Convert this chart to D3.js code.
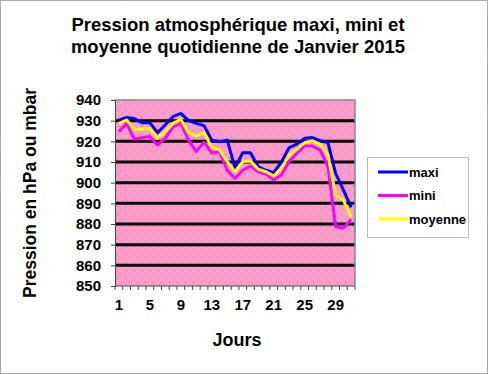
<!DOCTYPE html>
<html>
<head>
<meta charset="utf-8">
<script src="https://cdn.jsdelivr.net/npm/d3@7"></script>
<style>
body { margin: 0; background: #fff; }
svg { display: block; font-family: "Liberation Sans", Arial, sans-serif; }
</style>
</head>
<body>
<svg width="488" height="374"></svg>
<script>
var days = d3.range(1, 32);
var maxi = [930.3, 931.6, 931, 929, 929, 924.2, 928, 932, 933.5, 930, 928.7, 927.6, 920.6, 919.8, 920.6,
            907, 914.5, 914.5, 907.7, 906, 904.8, 910, 917, 918.7, 921.5, 921.8, 920.3, 919.4, 904.5, 896.5, 888];
var mini = [924.7, 928.7, 921, 921.8, 922.3, 918.2, 921.5, 927, 928.7, 920.6, 915, 919.6, 914.4, 915, 906,
            902, 906, 908, 905.3, 904.2, 901.3, 903.7, 910.2, 914.2, 917.7, 917.7, 915.8, 908, 878.7, 878, 882.3];
var moyenne = [928.7, 930.3, 925.8, 925.8, 926.3, 921.5, 924.7, 928.7, 930.6, 924.2, 922.6, 924.2, 917, 915.8, 910.2,
               905.3, 910.2, 910.5, 906.5, 905.3, 903.2, 907, 913.4, 916.1, 919.4, 920.2, 918.6, 913.4, 894, 891.6, 883.5];
var yTicks = d3.range(850, 941, 10);
var xLabels = [1, 5, 9, 13, 17, 21, 25, 29];

var series = [
    {name: "maxi", values: maxi, color: "#0000ff"},
    {name: "mini", values: mini, color: "#ff00ff"},
    {name: "moyenne", values: moyenne, color: "#ffff00"}
];

var svg = d3.select("svg");
var pLeft = 115, pRight = 355, pTop = 100, pBottom = 286;

// pink dotted background
var defs = svg.append("defs");
var pat = defs.append("pattern")
    .attr("id", "dots")
    .attr("width", 8).attr("height", 8)
    .attr("patternUnits", "userSpaceOnUse");
pat.append("rect").attr("width", 8).attr("height", 8).attr("fill", "#fb9ccb");
pat.append("rect").attr("x", 1).attr("y", 2).attr("width", 1).attr("height", 1).attr("fill", "#d86a9e");
pat.append("rect").attr("x", 5).attr("y", 6).attr("width", 1).attr("height", 1).attr("fill", "#d86a9e");

// outer dotted frame
svg.append("rect")
    .attr("x", 0.5).attr("y", 0.5).attr("width", 487).attr("height", 373)
    .attr("fill", "#fff").attr("stroke", "#555").attr("stroke-dasharray", "1,1");

var x = d3.scaleBand().domain(days).range([pLeft, pRight]);
var y = d3.scaleLinear().domain([850, 940]).range([pBottom, pTop]);

svg.append("rect")
    .attr("x", pLeft).attr("y", pTop)
    .attr("width", pRight - pLeft).attr("height", pBottom - pTop)
    .attr("fill", "url(#dots)");

// gridlines
svg.append("g")
    .selectAll("line")
    .data(yTicks.filter(function(d) { return d > 850 && d < 940; }))
    .enter().append("line")
    .attr("x1", pLeft).attr("x2", pRight)
    .attr("y1", function(d) { return y(d); })
    .attr("y2", function(d) { return y(d); })
    .attr("stroke", "#000").attr("stroke-width", 3);

// plot border
svg.append("path")
    .attr("d", "M" + pLeft + "," + pTop + "H" + pRight + "V" + pBottom)
    .attr("fill", "none").attr("stroke", "#888").attr("stroke-width", 1.5);

// lines
var line = d3.line()
    .x(function(d, i) { return x(days[i]) + x.bandwidth() / 2; })
    .y(function(d) { return y(d); });

svg.append("g")
    .selectAll("path")
    .data(series)
    .enter().append("path")
    .attr("d", function(d) { return line(d.values); })
    .attr("fill", "none")
    .attr("stroke", function(d) { return d.color; })
    .attr("stroke-width", 3)
    .attr("stroke-linejoin", "round");

// y axis
var yAxis = svg.append("g")
    .attr("transform", "translate(" + pLeft + ",0)")
    .call(d3.axisLeft(y).tickValues(yTicks).tickSize(4).tickPadding(10));
yAxis.select(".domain").attr("stroke", "#444");
yAxis.selectAll(".tick line").attr("stroke", "#444");
yAxis.selectAll("text")
    .attr("font-size", 15).attr("font-weight", "bold")
    .attr("font-family", "Liberation Sans, Arial, sans-serif").attr("fill", "#000");

// x axis: ticks at category boundaries
var xAxis = svg.append("g").attr("transform", "translate(0," + pBottom + ")");
xAxis.append("line").attr("x1", pLeft).attr("x2", pRight).attr("stroke", "#444");
xAxis.selectAll("line.t")
    .data(days.concat([32]))
    .enter().append("line")
    .attr("class", "t")
    .attr("x1", function(d) { return d <= 31 ? x(d) : pRight; })
    .attr("x2", function(d) { return d <= 31 ? x(d) : pRight; })
    .attr("y1", 0).attr("y2", 4)
    .attr("stroke", "#444");
xAxis.selectAll("text")
    .data(xLabels)
    .enter().append("text")
    .attr("x", function(d) { return x(d) + x.bandwidth() / 2; })
    .attr("y", 24)
    .attr("text-anchor", "middle")
    .attr("font-size", 15).attr("font-weight", "bold")
    .text(function(d) { return d; });

// titles
var title = svg.append("text")
    .attr("text-anchor", "middle")
    .attr("font-size", 18.5).attr("font-weight", "bold");
title.append("tspan").attr("x", 238).attr("y", 31).text("Pression atmosphérique maxi, mini et");
title.append("tspan").attr("x", 238).attr("y", 53).text("moyenne quotidienne de Janvier 2015");

svg.append("text")
    .attr("x", 237).attr("y", 346)
    .attr("text-anchor", "middle")
    .attr("font-size", 18).attr("font-weight", "bold")
    .text("Jours");

svg.append("text")
    .attr("transform", "translate(36,193) rotate(-90)")
    .attr("text-anchor", "middle")
    .attr("font-size", 17.5).attr("font-weight", "bold")
    .text("Pression en hPa ou mbar");

// legend
var legend = svg.append("g");
legend.append("rect")
    .attr("x", 367.5).attr("y", 157.5).attr("width", 101).attr("height", 80)
    .attr("fill", "#fff").attr("stroke", "#777").attr("stroke-dasharray", "1,1");
var item = legend.selectAll("g")
    .data(series)
    .enter().append("g")
    .attr("transform", function(d, i) { return "translate(378," + (172 + i * 23.5) + ")"; });
item.append("line")
    .attr("x1", 0).attr("x2", 30)
    .attr("stroke", function(d) { return d.color; })
    .attr("stroke-width", 3);
item.append("text")
    .attr("x", 31).attr("y", 4.5)
    .attr("font-size", 13).attr("font-weight", "bold")
    .text(function(d) { return d.name; });
</script>
</body>
</html>
